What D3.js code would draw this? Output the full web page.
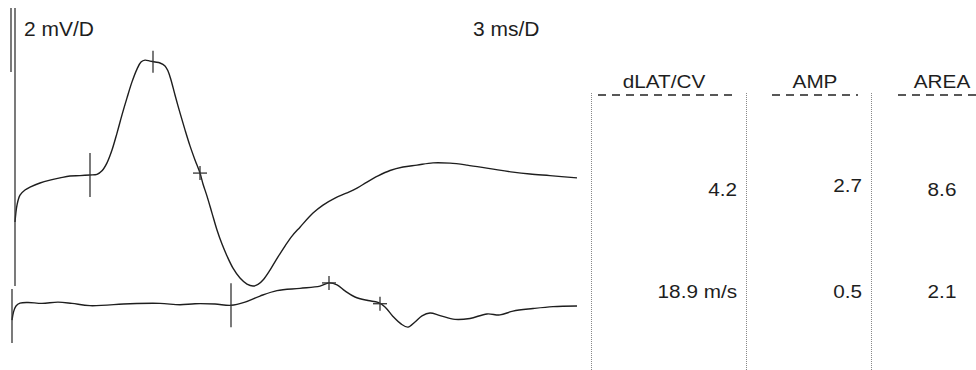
<!DOCTYPE html>
<html><head><meta charset="utf-8">
<script src="https://cdn.jsdelivr.net/npm/d3@7"></script>
<style>
html,body{margin:0;padding:0;background:#fff;}
svg text{font-family:"Liberation Sans",Arial,Helvetica,sans-serif;fill:#1e1e1e;}
</style></head>
<body><svg id="c" width="976" height="370"></svg>
<script>
// ---- data (time in ms, voltage in mV) ----
const upperTrace = [
[0,-1.47],[0.1,-0.94],[0.25,-0.63],[0.5,-0.47],[0.75,-0.38],[1.25,-0.25],[1.75,-0.16],[2.25,-0.09],
[2.75,-0.03],[3.25,-0.02],[3.75,0],[4.1,0.02],[4.35,0.13],[4.6,0.38],[4.85,0.78],[5.1,1.31],[5.35,1.88],
[5.6,2.41],[5.85,2.91],[6.1,3.31],[6.3,3.53],[6.5,3.59],[6.75,3.56],[7.0,3.53],[7.25,3.5],[7.5,3.41],
[7.65,3.25],[7.8,2.97],[8.0,2.5],[8.25,1.94],[8.5,1.41],[8.75,0.91],[9.0,0.47],[9.25,0.06],[9.4,-0.28],
[9.6,-0.66],[9.85,-1.19],[10.1,-1.72],[10.35,-2.16],[10.6,-2.53],[10.9,-2.91],[11.25,-3.22],[11.6,-3.41],
[11.9,-3.47],[12.15,-3.42],[12.4,-3.28],[12.75,-2.97],[13.15,-2.56],[13.5,-2.22],[13.85,-1.91],[14.25,-1.63],
[14.9,-1.19],[15.4,-0.94],[16.0,-0.72],[16.6,-0.56],[17.1,-0.41],[17.6,-0.22],[18.15,-0.03],[18.75,0.14],
[19.4,0.25],[20.1,0.31],[20.9,0.38],[21.75,0.37],[22.6,0.31],[23.75,0.2],[24.9,0.09],[25.75,0.03],[26.75,-0.02],[28.1,-0.09]
];
const lowerTrace = [
[-0.15,-0.47],[-0.075,-0.22],[0.05,-0.03],[0.25,0.06],[0.65,0.08],[1.35,0.05],[2.15,0.09],[2.85,0.05],
[3.75,-0.02],[5.75,0.04],[7.25,0.05],[8.25,0.01],[9.0,0.04],[10.0,0.03],[10.8,-0.01],[11.5,0.09],
[12.25,0.28],[13.1,0.45],[14.25,0.52],[15.25,0.59],[15.7,0.69],[16.1,0.63],[16.5,0.44],[17.0,0.25],
[17.65,0.14],[18.15,0.08],[18.5,-0.06],[18.9,-0.36],[19.3,-0.59],[19.65,-0.69],[20.0,-0.53],[20.35,-0.34],
[20.75,-0.25],[21.25,-0.33],[22.0,-0.45],[22.75,-0.42],[23.6,-0.28],[24.25,-0.31],[24.9,-0.19],[25.9,-0.11],
[26.9,-0.05],[28.1,-0.03]
];
// markers: [time, kind]
const upperMarkers = [[3.75,"long"],[6.9,"short"],[9.25,"cross"]];
const lowerMarkers = [[-0.15,"start"],[10.8,"long"],[15.7,"cross"],[18.25,"cross"]];
const scaleLabels = ["2 mV/D","3 ms/D"];
const scaleBarMV = 2;
const headers = ["dLAT/CV","AMP","AREA"];
const row1 = ["4.2","2.7","8.6"];
const row2 = ["18.9 m/s","0.5","2.1"];

// ---- drawing ----
const svg = d3.select("#c");
const x = d3.scaleLinear().domain([0,28.1]).range([15,577]);
const y = d3.scaleLinear().domain([-1,1]).range([32,-32]); // 32 px per mV
const ink = "#1e1e1e";
const line = d3.line().x(d=>x(d[0])).y(d=>y(d[1])).curve(d3.curveCatmullRom.alpha(0.5));

function valueAt(trace,t){
  for(let i=1;i<trace.length;i++){
    if(trace[i][0]>=t){const a=trace[i-1],b=trace[i];const f=(t-a[0])/(b[0]-a[0]);return a[1]+f*(b[1]-a[1]);}
  }
  return trace[trace.length-1][1];
}

function drawTrace(trace, markers, offsetY){
  const g = svg.append("g").attr("transform",`translate(0,${offsetY})`);
  g.append("path").attr("d",line(trace)).attr("fill","none").attr("stroke",ink).attr("stroke-width",1.4);
  markers.forEach(([t,kind])=>{
    const cx = x(t), cy = y(valueAt(trace,t));
    const conf = {long:[22,0,0],short:[11,0,0],cross:[7,7,0],start:[27,0,-4]}[kind];
    const [hv,hh,shift] = conf;
    g.append("line").attr("x1",cx).attr("x2",cx).attr("y1",cy+shift-hv).attr("y2",cy+shift+hv)
      .attr("stroke","#333").attr("stroke-width",1.3);
    if(hh>0) g.append("line").attr("x1",cx-hh).attr("x2",cx+hh).attr("y1",cy).attr("y2",cy)
      .attr("stroke","#333").attr("stroke-width",1.3);
  });
}
drawTrace(upperTrace, upperMarkers, 175);
drawTrace(lowerTrace, lowerMarkers, 305);

// scale bars
svg.append("line").attr("x1",11).attr("x2",11).attr("y1",8).attr("y2",8+(y(0)-y(scaleBarMV)))
  .attr("stroke","#333").attr("stroke-width",1.3);
svg.append("line").attr("x1",x(0)).attr("x2",x(0)).attr("y1",8).attr("y2",286)
  .attr("stroke","#333").attr("stroke-width",1.3);

function label(txt,tx,ty,anchor,size,sx){
  svg.append("g").attr("transform",`translate(${tx},${ty})`)
    .append("text").attr("transform",`scale(${sx},1)`).attr("font-size",size+"px")
    .attr("text-anchor",anchor||"start").text(txt);
}
label(scaleLabels[0],24,36,"start",20,1.05);
label(scaleLabels[1],473,36,"start",20,1.05);

// table
const colLines = [591,746,871];
colLines.forEach(cx=>{
  svg.append("line").attr("x1",cx+0.5).attr("x2",cx+0.5).attr("y1",93).attr("y2",370)
    .attr("stroke","#888").attr("stroke-width",1).attr("stroke-dasharray","1,1");
});
const TS = 18.5, TSX = 1.12;
const headerX = [664,815,942];
headers.forEach((h,i)=>label(h,headerX[i],88,"middle",TS,TSX));
const dashes = [[598,737],[772,858],[898,976]];
dashes.forEach(([a,b])=>{
  svg.append("line").attr("x1",a).attr("x2",b).attr("y1",95).attr("y2",95)
    .attr("stroke","#222").attr("stroke-width",1.3).attr("stroke-dasharray","8,6");
});
const valX = [[737,"end"],[862,"end"],[942,"middle"]];
row1.forEach((v,i)=>label(v,valX[i][0],i===1?192:196,valX[i][1],TS,TSX));
row2.forEach((v,i)=>label(v,valX[i][0],298,valX[i][1],TS,TSX));
</script></body></html>
